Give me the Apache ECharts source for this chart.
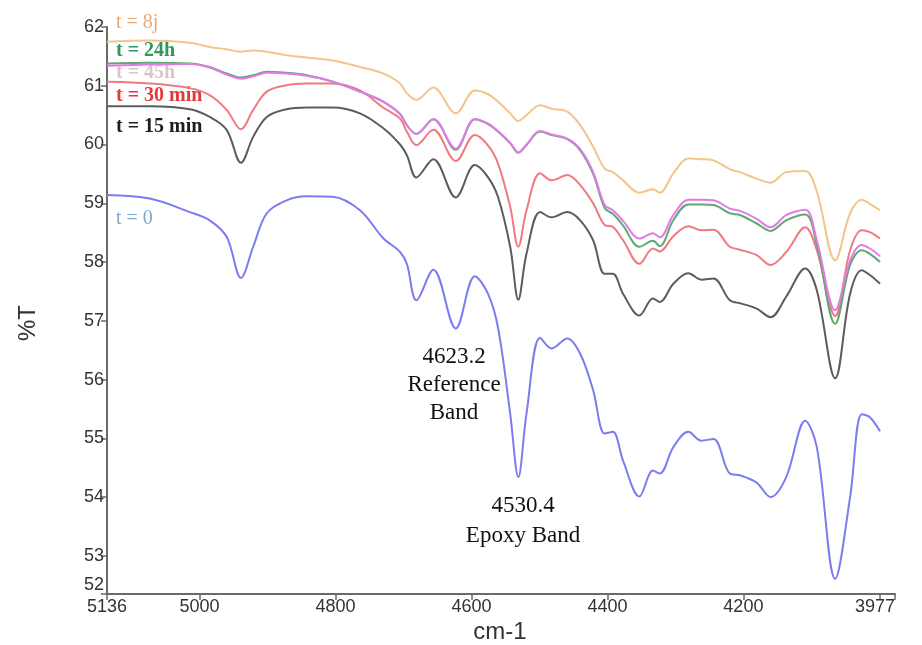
<!DOCTYPE html>
<html>
<head>
<meta charset="utf-8">
<script src="https://cdn.jsdelivr.net/npm/echarts@6/dist/echarts.min.js"></script>
<style>html,body{margin:0;padding:0;background:#fff}#c{width:922px;height:645px}</style>
</head>
<body>
<div id="c"></div>
<script>
// Wavenumbers (cm-1)
const wavenumbers = [5136,5073,5014,4985,4960,4939,4921,4901,4872,4842,4804,4764,4730,4705,4695,4681,4656,4623,4595,4576,4561,4543,4531,4519,4499,4482,4459,4440,4421,4404,4392,4377,4353,4333,4323,4303,4281,4262,4244,4220,4205,4181,4160,4137,4109,4092,4065,4043,4026,4014,3999];

const t0 = [59.14,59.08,58.85,58.71,58.43,57.73,58.26,58.83,59.05,59.12,59.11,58.88,58.41,58.17,57.97,57.35,57.87,56.87,57.76,57.47,56.89,55.42,54.34,55.42,56.71,56.53,56.70,56.44,55.82,55.08,55.11,54.62,54.01,54.45,54.40,54.85,55.11,54.96,54.99,54.40,54.37,54.25,54.00,54.34,55.30,54.85,52.61,54.00,55.41,55.36,55.12];
const t15min = [60.65,60.65,60.60,60.47,60.25,59.69,60.13,60.47,60.60,60.63,60.63,60.53,60.28,60.00,59.82,59.44,59.75,59.10,59.65,59.45,59.11,58.26,57.36,58.14,58.85,58.76,58.85,58.71,58.37,57.80,57.80,57.46,57.09,57.38,57.32,57.63,57.81,57.70,57.72,57.35,57.30,57.21,57.06,57.41,57.89,57.52,56.02,57.46,57.86,57.78,57.63];
const t30min = [61.07,61.04,60.96,60.84,60.59,60.26,60.59,60.90,61.01,61.04,61.04,60.92,60.63,60.44,60.22,59.99,60.25,59.72,60.16,59.99,59.68,58.94,58.26,58.88,59.51,59.39,59.48,59.31,59.00,58.63,58.60,58.37,57.97,58.23,58.18,58.44,58.61,58.54,58.55,58.26,58.21,58.12,57.95,58.17,58.59,58.20,57.08,58.20,58.54,58.51,58.40];
const t45h = [61.34,61.36,61.37,61.31,61.19,61.12,61.16,61.22,61.21,61.17,61.07,60.90,60.73,60.52,60.33,60.18,60.43,59.93,60.43,60.36,60.23,60.03,59.87,60.00,60.23,60.17,60.10,59.92,59.53,58.97,58.88,58.70,58.40,58.49,58.42,58.80,59.06,59.06,59.05,58.91,58.87,58.74,58.59,58.80,58.89,58.37,57.18,58.03,58.29,58.23,58.10];
const t24h = [61.38,61.39,61.38,61.32,61.21,61.14,61.18,61.24,61.22,61.18,61.07,60.90,60.73,60.52,60.33,60.18,60.43,59.91,60.43,60.35,60.22,60.02,59.86,59.99,60.22,60.16,60.09,59.90,59.50,58.92,58.82,58.62,58.26,58.36,58.27,58.71,58.98,58.98,58.97,58.83,58.80,58.66,58.53,58.71,58.81,58.29,56.95,57.95,58.20,58.14,58.00];
const t8j = [61.75,61.77,61.73,61.66,61.62,61.58,61.60,61.58,61.52,61.48,61.43,61.32,61.21,61.04,60.87,60.76,60.97,60.53,60.92,60.86,60.73,60.53,60.40,60.50,60.67,60.61,60.56,60.33,59.96,59.59,59.53,59.39,59.18,59.24,59.18,59.51,59.76,59.75,59.73,59.58,59.53,59.42,59.35,59.53,59.55,59.20,58.03,58.83,59.06,58.99,58.88];

const seriesNames = ['t = 0','t = 15 min','t = 30 min','t = 24h','t = 45h','t = 8j'];
const seriesValues = [t0, t15min, t30min, t24h, t45h, t8j];
const seriesColors = ['#7c7cf0','#5c5c5c','#f07a80','#5fa872','#e47ae8','#f4c48a'];

const xLabelValues = [5136,5000,4800,4600,4400,4200,3977];
const xTickValues = [5136,5000,4800,4600,4400,4200,4000,3977];
const xMin = 3977, xMax = 5136;
const yMin = 52.35, yMax = 62;
const yTickValues = [52.35,53,54,55,56,57,58,59,60,61,62];

const chart = echarts.init(document.getElementById('c'), null, {renderer:'canvas'});
const serif = "'Liberation Serif','Times New Roman',serif";
const sans = "'Liberation Sans',Arial,sans-serif";

const option = {
  animation: false,
  backgroundColor: '#fff',
  grid: {left:107, right:27, top:27, bottom:51, containLabel:false, outerBoundsMode:'none'},
  xAxis: {
    type:'value', inverse:true, min:xMin, max:xMax,
    axisLine:{show:true, onZero:false, lineStyle:{color:'#6a6a6a', width:2}},
    axisTick:{show:true, length:6, customValues:xTickValues, lineStyle:{color:'#6a6a6a', width:1.5}},
    axisLabel:{customValues:xLabelValues, formatter:v=>String(v), fontSize:18, color:'#333', fontFamily:sans, margin:4, alignMaxLabel:'right'},
    splitLine:{show:false}
  },
  yAxis: {
    type:'value', min:yMin, max:yMax,
    axisLine:{show:true, onZero:false, lineStyle:{color:'#6a6a6a', width:2}},
    axisTick:{show:true, length:6, customValues:yTickValues, lineStyle:{color:'#6a6a6a', width:1.5}},
    axisLabel:{customValues:yTickValues, formatter:v=>String(Math.round(v)), fontSize:18, color:'#333', fontFamily:sans, margin:3, verticalAlignMinLabel:'bottom'},
    splitLine:{show:false}
  },
  series: seriesNames.map((n,i)=>({
    name:n, type:'line', showSymbol:false, smooth:0.35,
    lineStyle:{color:seriesColors[i], width:2},
    itemStyle:{color:seriesColors[i]},
    data: wavenumbers.map((w,k)=>[w, seriesValues[i][k]])
  })),
  graphic: [
    {type:'text', left:116, top:13, style:{text:'t = 8j', font:`20px ${serif}`, fill:'#eaa878'}},
    {type:'text', left:116, top:41, style:{text:'t = 24h', font:`bold 20px ${serif}`, fill:'#2e9a5a'}},
    {type:'text', left:116, top:63, style:{text:'t = 45h', font:`bold 20px ${serif}`, fill:'#dcc4c8'}},
    {type:'text', left:116, top:86, style:{text:'t = 30 min', font:`bold 20px ${serif}`, fill:'#e5383b'}},
    {type:'text', left:116, top:117, style:{text:'t = 15 min', font:`bold 20px ${serif}`, fill:'#1e1e1e'}},
    {type:'text', left:116, top:209, style:{text:'t = 0', font:`20px ${serif}`, fill:'#80a8d0'}},
    {type:'text', x:454, y:385, style:{text:'4623.2\nReference\nBand', font:`23px ${serif}`, fill:'#111', align:'center', verticalAlign:'middle', lineHeight:28}},
    {type:'text', x:523, y:521, style:{text:'4530.4\nEpoxy Band', font:`23px ${serif}`, fill:'#111', align:'center', verticalAlign:'middle', lineHeight:30}},
    {type:'text', x:28, y:323, rotation:Math.PI/2, style:{text:'%T', font:`24px ${sans}`, fill:'#333', align:'center', verticalAlign:'middle'}},
    {type:'text', x:500, y:632, style:{text:'cm-1', font:`24px ${sans}`, fill:'#333', align:'center', verticalAlign:'middle'}}
  ]
};
chart.setOption(option);
</script>
</body>
</html>
